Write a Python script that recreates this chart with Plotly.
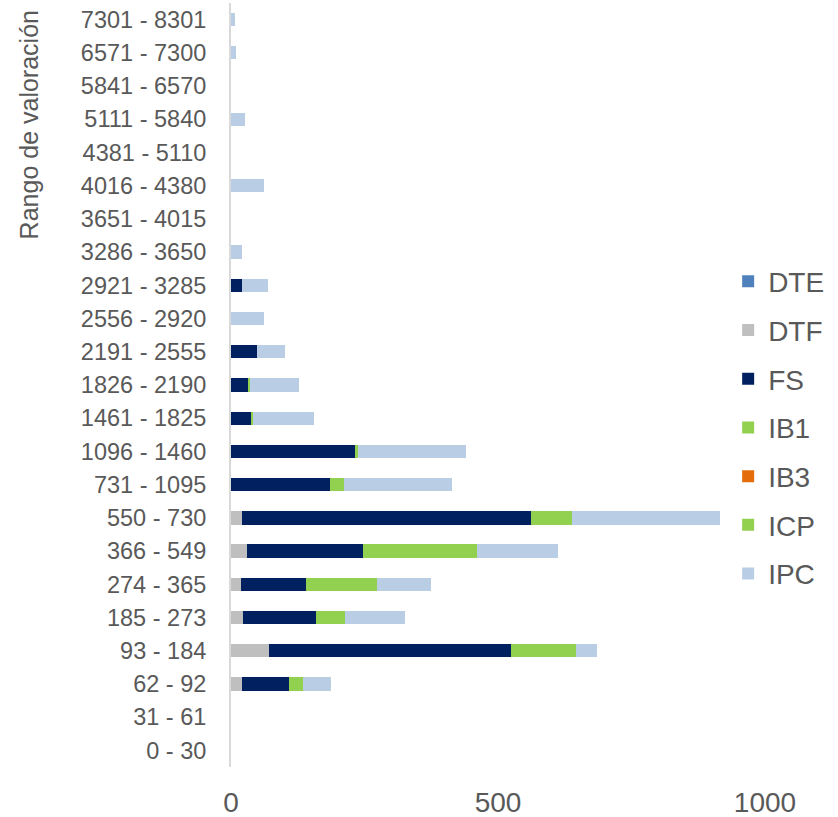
import plotly.graph_objects as go

# ---------------- DATA ----------------
rangos = [
    "0 - 30", "31 - 61", "62 - 92", "93 - 184", "185 - 273", "274 - 365",
    "366 - 549", "550 - 730", "731 - 1095", "1096 - 1460", "1461 - 1825",
    "1826 - 2190", "2191 - 2555", "2556 - 2920", "2921 - 3285", "3286 - 3650",
    "3651 - 4015", "4016 - 4380", "4381 - 5110", "5111 - 5840", "5841 - 6570",
    "6571 - 7300", "7301 - 8301",
]

dte = [0] * 23
dtf = [0, 0, 20, 71, 22, 19, 30, 21, 0, 0, 0, 0, 0, 0, 0, 0, 0, 0, 0, 0, 0, 0, 0]
fs = [0, 0, 88, 454, 137, 121, 217, 541, 185, 233, 38, 32, 49, 0, 21, 0, 0, 0, 0, 0, 0, 0, 0]
ib1 = [0, 0, 0, 0, 0, 0, 0, 0, 18, 5, 4, 3, 0, 0, 0, 0, 0, 0, 0, 0, 0, 0, 0]
ib3 = [0] * 23
icp = [0, 0, 26, 121, 55, 134, 214, 77, 8, 0, 0, 0, 0, 0, 0, 0, 0, 0, 0, 0, 0, 0, 0]
ipc = [0, 0, 53, 39, 112, 101, 152, 277, 202, 202, 114, 92, 52, 61, 49, 21, 0, 62, 0, 26, 0, 10, 8]

series = [
    ("DTE", dte, "#4F81BD"),
    ("DTF", dtf, "#BFBFBF"),
    ("FS", fs, "#002060"),
    ("IB1", ib1, "#92D050"),
    ("IB3", ib3, "#E46C0A"),
    ("ICP", icp, "#92D050"),
    ("IPC", ipc, "#B9CDE5"),
]

# ---------------- FIGURE ----------------
fig = go.Figure()
for name, vals, color in series:
    fig.add_trace(go.Bar(
        y=rangos, x=vals, name=name, orientation="h",
        marker=dict(color=color, line=dict(width=0)),
        legendgroup=name,
    ))

txt = "#595959"
fig.update_layout(
    width=838, height=817,
    barmode="stack", bargap=0.6,
    plot_bgcolor="white", paper_bgcolor="white",
    margin=dict(l=231, r=73, t=3, b=50),
    font=dict(family="Liberation Sans, Arial, sans-serif", color=txt),
    xaxis=dict(
        range=[0, 1000], tickvals=[0, 500, 1000],
        showgrid=False, zeroline=False, showline=False,
        tickfont=dict(size=28, color=txt), ticklabelstandoff=16,
        automargin=False,
    ),
    yaxis=dict(
        type="category", categoryorder="array", categoryarray=rangos,
        showgrid=False, zeroline=False,
        showline=True, linecolor="#d9d9d9", linewidth=2,
        tickfont=dict(size=23.5, color=txt), ticklabelstandoff=18,
        automargin=False,
    ),
    legend=dict(
        x=0.931, xanchor="left", y=0.668, yanchor="top",
        traceorder="grouped", tracegroupgap=9.3,
        font=dict(size=28, color=txt), bgcolor="rgba(0,0,0,0)",
    ),
    showlegend=True,
)

fig.add_annotation(
    text="Rango de valoración", textangle=-90,
    xref="paper", yref="paper", x=-0.378, y=0.84,
    xanchor="center", yanchor="middle", showarrow=False,
    font=dict(size=25, color=txt),
)

# page body has a default margin; drop it so the figure sits at the top-left
fig.write_html("out.html", config={"displayModeBar": False},
               post_script="document.body.style.margin='0';")
